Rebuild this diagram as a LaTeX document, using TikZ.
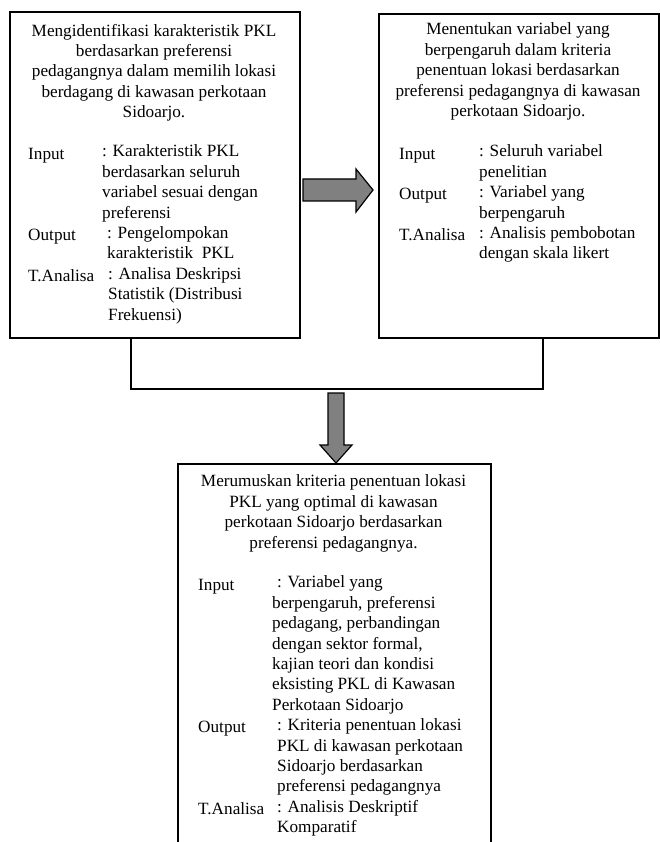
\documentclass[tikz,border=0pt]{standalone}
\usepackage{fontspec}
\setmainfont{Liberation Serif}
\usepackage{tikz}
\usetikzlibrary{positioning,calc}

\begin{document}
\begin{tikzpicture}[
    x=1pt, y=-1pt,
    panel/.style={rectangle, draw, line width=1.8pt, anchor=north west, inner sep=0pt},
    txt/.style={inner sep=0pt, anchor=north west, align=left, font=\fontsize{17.2}{20.4}\selectfont, execute at begin node=\strut},
    title/.style={txt, anchor=north, align=center},
    link/.style={line width=1.6pt},
    blockarrow/.style={draw, fill=gray, line width=1.2pt, line join=miter}
]
\clip (0,0) rectangle (660,842);

% boxes
\node[panel, minimum width=290, minimum height=326] (ident) at (9,11) {};
\node[panel, minimum width=280, minimum height=324] (variab) at (378,13) {};
\node[panel, minimum width=313, minimum height=420] (kriteria) at (177,463) {};

% box 1
\node[title] (identtitle) at (154,23.7) {Mengidentifikasi karakteristik PKL\\berdasarkan preferensi\\pedagangnya dalam memilih lokasi\\berdagang di kawasan perkotaan\\Sidoarjo.};
\node[txt] (identin) at (28,144.7) {Input};
\node[txt] (identinval) at (102,144.7) {: Karakteristik PKL\\berdasarkan seluruh\\variabel sesuai dengan\\preferensi};
\node[txt] (identout) at (28,226.3) {Output};
\node[txt] (identoutval) at (107,226.3) {: Pengelompokan\\karakteristik\ \ PKL};
\node[txt] (identan) at (28,267.1) {T.Analisa};
\node[txt] (identanval) at (108,267.1) {: Analisa Deskripsi\\Statistik (Distribusi\\Frekuensi)};

% box 2
\node[title] (variabtitle) at (518,22.7) {Menentukan variabel yang\\berpengaruh dalam kriteria\\penentuan lokasi berdasarkan\\preferensi pedagangnya di kawasan\\perkotaan Sidoarjo.};
\node[txt] (variabin) at (399,144.7) {Input};
\node[txt] (variabinval) at (479,144.7) {: Seluruh variabel\\penelitian};
\node[txt] (variabout) at (399,185.5) {Output};
\node[txt] (variaboutval) at (479,185.5) {: Variabel yang\\berpengaruh};
\node[txt] (variaban) at (399,226.3) {T.Analisa};
\node[txt] (variabanval) at (479,226.3) {: Analisis pembobotan\\dengan skala likert};

% box 3
\node[title] (kriteriatitle) at (333.5,474.7) {Merumuskan kriteria penentuan lokasi\\PKL yang optimal di kawasan\\perkotaan Sidoarjo berdasarkan\\preferensi pedagangnya.};
\node[txt] (kriteriain) at (198,575.7) {Input};
\node[txt] (kriteriainval) at (272,575.7) {\hspace*{5pt}: Variabel yang\\berpengaruh, preferensi\\pedagang, perbandingan\\dengan sektor formal,\\kajian teori dan kondisi\\eksisting PKL di Kawasan\\Perkotaan Sidoarjo};
\node[txt] (kriteriaout) at (198,718.5) {Output};
\node[txt] (kriteriaoutval) at (277,718.5) {: Kriteria penentuan lokasi\\PKL di kawasan perkotaan\\Sidoarjo berdasarkan\\preferensi pedagangnya};
\node[txt] (kriteriaan) at (198,800.1) {T.Analisa};
\node[txt] (kriteriaanval) at (277,800.1) {: Analisis Deskriptif\\Komparatif};

% joining line
\coordinate (jl) at (131,389);
\coordinate (jr) at (543,389);
\draw[link] (jl |- ident.south) -- (jl) -- (jr) -- (jr |- variab.south);

% block arrows
\draw[blockarrow] (303,179) -- (356,179) -- (356,169) -- (373,190) -- (356,212) -- (356,201) -- (303,201) -- cycle;
\draw[blockarrow] (328,393) -- (344,393) -- (344,445) -- (352,445) -- (336,463) -- (320,445) -- (328,445) -- cycle;
\end{tikzpicture}
\end{document}
